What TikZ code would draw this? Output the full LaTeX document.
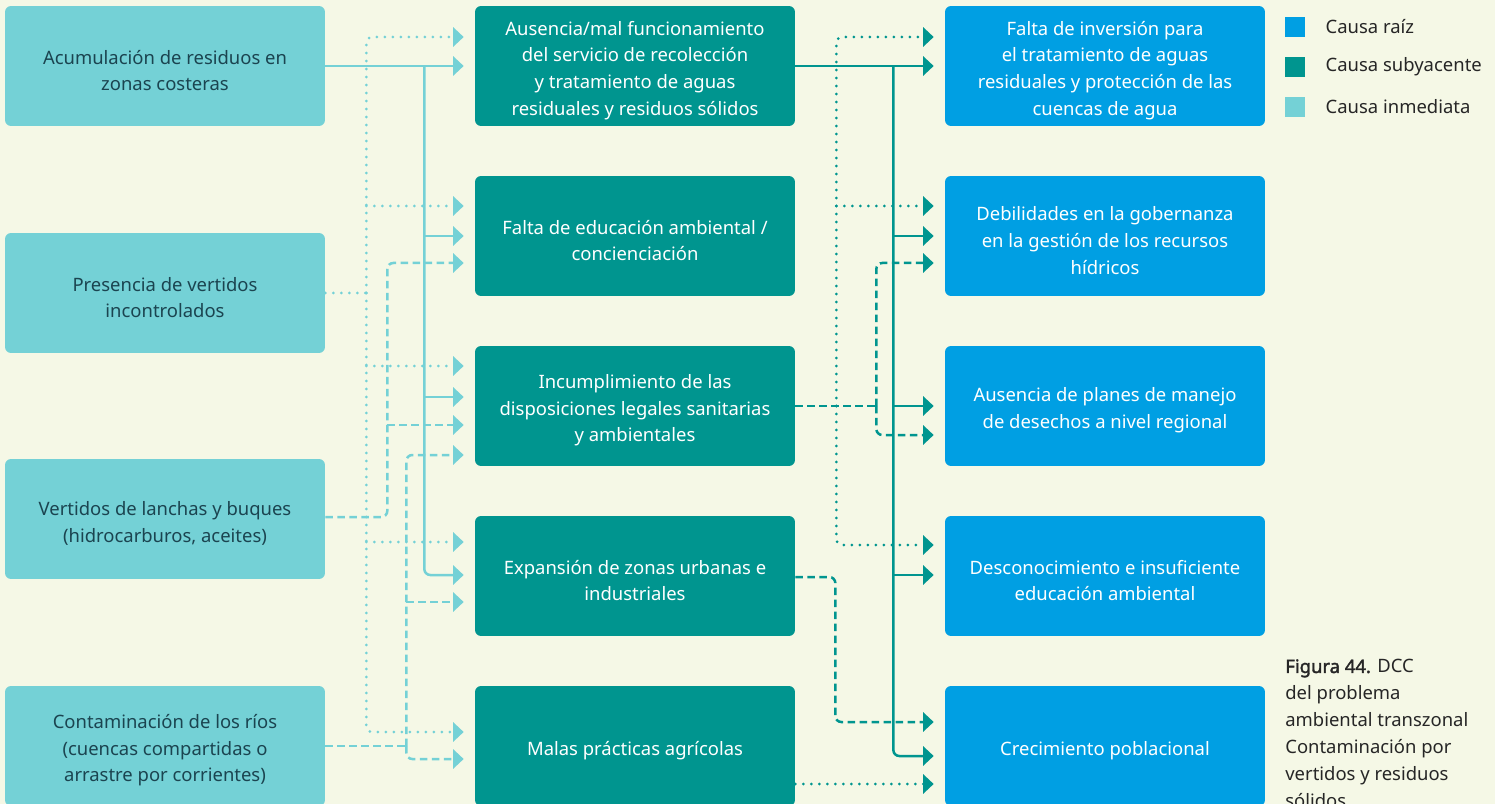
\documentclass[tikz,border=0pt]{standalone}
\usepackage{fontspec}
\setmainfont{Noto Sans}[AutoFakeBold=2]
\usepackage{tikz}
\usetikzlibrary{arrows.meta,positioning,calc}

\definecolor{fondo}{HTML}{F5F8E6}
\definecolor{raiz}{HTML}{009FE3}
\definecolor{subya}{HTML}{00958F}
\definecolor{inmed}{HTML}{74D1D6}
\definecolor{oscuro}{HTML}{1B4450}

% strut for the first line of each box
\newcommand{\txtalto}{\rule{0pt}{0.46cm}}

\begin{document}
\begin{tikzpicture}[
    x=0.02cm, y=-0.02cm,
    caja/.style={rounded corners=0.12cm, minimum width=6.4cm, minimum height=2.4cm, align=center, inner sep=2pt,
        font=\fontsize{10.5}{15.2}\selectfont},
    inm/.style={caja, fill=inmed, text=oscuro},
    sub/.style={caja, fill=subya, text=white},
    rai/.style={caja, fill=raiz, text=white},
    flecha/.style={-{Triangle[length=0.21cm, width=0.38cm]}, line width=0.05cm, shorten >=0.22cm},
    lsol/.style={flecha, inmed},
    ldot/.style={flecha, inmed, line width=0.06cm, line cap=round, dash pattern=on 0pt off 0.16cm},
    ldash/.style={flecha, inmed, dash pattern=on 0.15cm off 0.09cm},
    tsol/.style={flecha, subya},
    tdot/.style={flecha, subya, line width=0.06cm, line cap=round, dash pattern=on 0pt off 0.16cm},
    tdash/.style={flecha, subya, dash pattern=on 0.15cm off 0.09cm},
    tronco/.style={-, shorten >=0pt},
    esq/.style={rounded corners=0.12cm},
    cuadro/.style={minimum size=0.4cm, inner sep=0pt},
    leyenda/.style={inner sep=0pt, text=black!85, font=\fontsize{10.5}{15.3}\selectfont}
]
\fill[fondo] (0,0) rectangle (1495,804);
\useasboundingbox (0,0) rectangle (1495,804);

% causas inmediatas
\node[inm] (L1) at (165,66) {\txtalto Acumulación de residuos en\\zonas costeras};
\node[inm] (L2) at (165,293) {\txtalto Presencia de vertidos\\incontrolados};
\node[inm] (L3) at (165,519) {\txtalto Vertidos de lanchas y buques\\(hidrocarburos, aceites)};
\node[inm] (L4) at (165,746) {\txtalto Contaminación de los ríos\\(cuencas compartidas o\\arrastre por corrientes)};

% causas subyacentes
\node[sub] (M1) at (635,66) {\txtalto Ausencia/mal funcionamiento\\del servicio de recolección\\y tratamiento de aguas\\residuales y residuos sólidos};
\node[sub] (M2) at (635,236) {\txtalto Falta de educación ambiental /\\concienciación};
\node[sub] (M3) at (635,406) {\txtalto Incumplimiento de las\\disposiciones legales sanitarias\\y ambientales};
\node[sub] (M4) at (635,576) {\txtalto Expansión de zonas urbanas e\\industriales};
\node[sub] (M5) at (635,746) {\txtalto Malas prácticas agrícolas};

% causas raiz
\node[rai] (R1) at (1105,66) {\txtalto Falta de inversión para\\el tratamiento de aguas\\residuales y protección de las\\cuencas de agua};
\node[rai] (R2) at (1105,236) {\txtalto Debilidades en la gobernanza\\en la gestión de los recursos\\hídricos};
\node[rai] (R3) at (1105,406) {\txtalto Ausencia de planes de manejo\\de desechos a nivel regional};
\node[rai] (R4) at (1105,576) {\txtalto Desconocimiento e insuficiente\\educación ambiental};
\node[rai] (R5) at (1105,746) {\txtalto Crecimiento poblacional};

% inmediatas -> subyacentes
\coordinate (jA) at ($(L1.east)+(99,0)$);
\coordinate (jB) at ($(L2.east)+(41,0)$);
\coordinate (jC) at ($(L3.east)+(62,-2)$);
\coordinate (jD) at ($(L4.east)+(81,0)$);

\draw[lsol] (L1.east) -- (M1.west);
\draw[lsol, esq] (jA) |- ($(M4.west)+(0,-1)$);
\draw[lsol] (jA |- M2.west) -- (M2.west);
\draw[lsol] ($(jA |- M3.west)+(0,-9)$) -- ($(M3.west)+(0,-9)$);

\draw[ldot, tronco] (L2.east) -- (jB);
\draw[ldot, esq] (jB) |- ($(M1.west)+(0,-29)$);
\draw[ldot, esq] (jB) |- ($(M5.west)+(0,-14)$);
\draw[ldot] ($(jB |- M2.west)+(0,-30)$) -- ($(M2.west)+(0,-30)$);
\draw[ldot] ($(jB |- M3.west)+(0,-40)$) -- ($(M3.west)+(0,-40)$);
\draw[ldot] ($(jB |- M4.west)+(0,-34)$) -- ($(M4.west)+(0,-34)$);

\draw[ldash, esq] ($(L3.east)+(0,-2)$) -- (jC) |- ($(M2.west)+(0,27)$);
\draw[ldash] ($(jC |- M3.west)+(0,19)$) -- ($(M3.west)+(0,19)$);

\draw[ldash, tronco] (L4.east) -- (jD);
\draw[ldash, esq] (jD) |- ($(M3.west)+(0,49)$);
\draw[ldash, esq] (jD) |- ($(M5.west)+(0,13)$);
\draw[ldash] ($(jD |- M4.west)+(0,26)$) -- ($(M4.west)+(0,26)$);

% subyacentes -> raiz
\coordinate (kA) at ($(M1.east)+(98,0)$);
\coordinate (kB) at ($(M3.east)+(41,0)$);
\coordinate (kC) at ($(M3.east)+(81,0)$);
\coordinate (kD) at ($(M4.east)+(40,1)$);

\draw[tsol] (M1.east) -- (R1.west);
\draw[tsol, esq] (kA) |- ($(R5.west)+(0,10)$);
\draw[tsol] (kA |- R2.west) -- (R2.west);
\draw[tsol] (kA |- R3.west) -- (R3.west);
\draw[tsol] ($(kA |- R4.west)+(0,-1)$) -- ($(R4.west)+(0,-1)$);

\draw[tdot, esq] (kB) |- ($(R1.west)+(0,-29)$);
\draw[tdot, esq] (kB) |- ($(R4.west)+(0,-31)$);
\draw[tdot] ($(kB |- R2.west)+(0,-30)$) -- ($(R2.west)+(0,-30)$);

\draw[tdash, tronco] (M3.east) -- (kC);
\draw[tdash, esq] (kC) |- ($(R2.west)+(0,27)$);
\draw[tdash, esq] (kC) |- ($(R3.west)+(0,29)$);

\draw[tdash, esq] ($(M4.east)+(0,1)$) -- (kD) |- ($(R5.west)+(0,-24)$);
\draw[tdot] ($(M5.east)+(0,38)$) -- ($(R5.west)+(0,38)$);

% leyenda
\node[cuadro, fill=raiz] (cr) at (1295,27) {};
\node[cuadro, fill=subya] (cs) at (1295,67) {};
\node[cuadro, fill=inmed] (ci) at (1295,107) {};
\node[leyenda, right=0.4cm of cr] (tr) {Causa raíz};
\node[leyenda, right=0.4cm of cs] (ts) {Causa subyacente};
\node[leyenda, right=0.4cm of ci] (ti) {Causa inmediata};

\node[leyenda, anchor=north west, align=left] (fig) at (1285,659)
    {\textbf{Figura 44.} DCC\\del problema\\ambiental transzonal\\Contaminación por\\vertidos y residuos\\sólidos};
\end{tikzpicture}
\end{document}
